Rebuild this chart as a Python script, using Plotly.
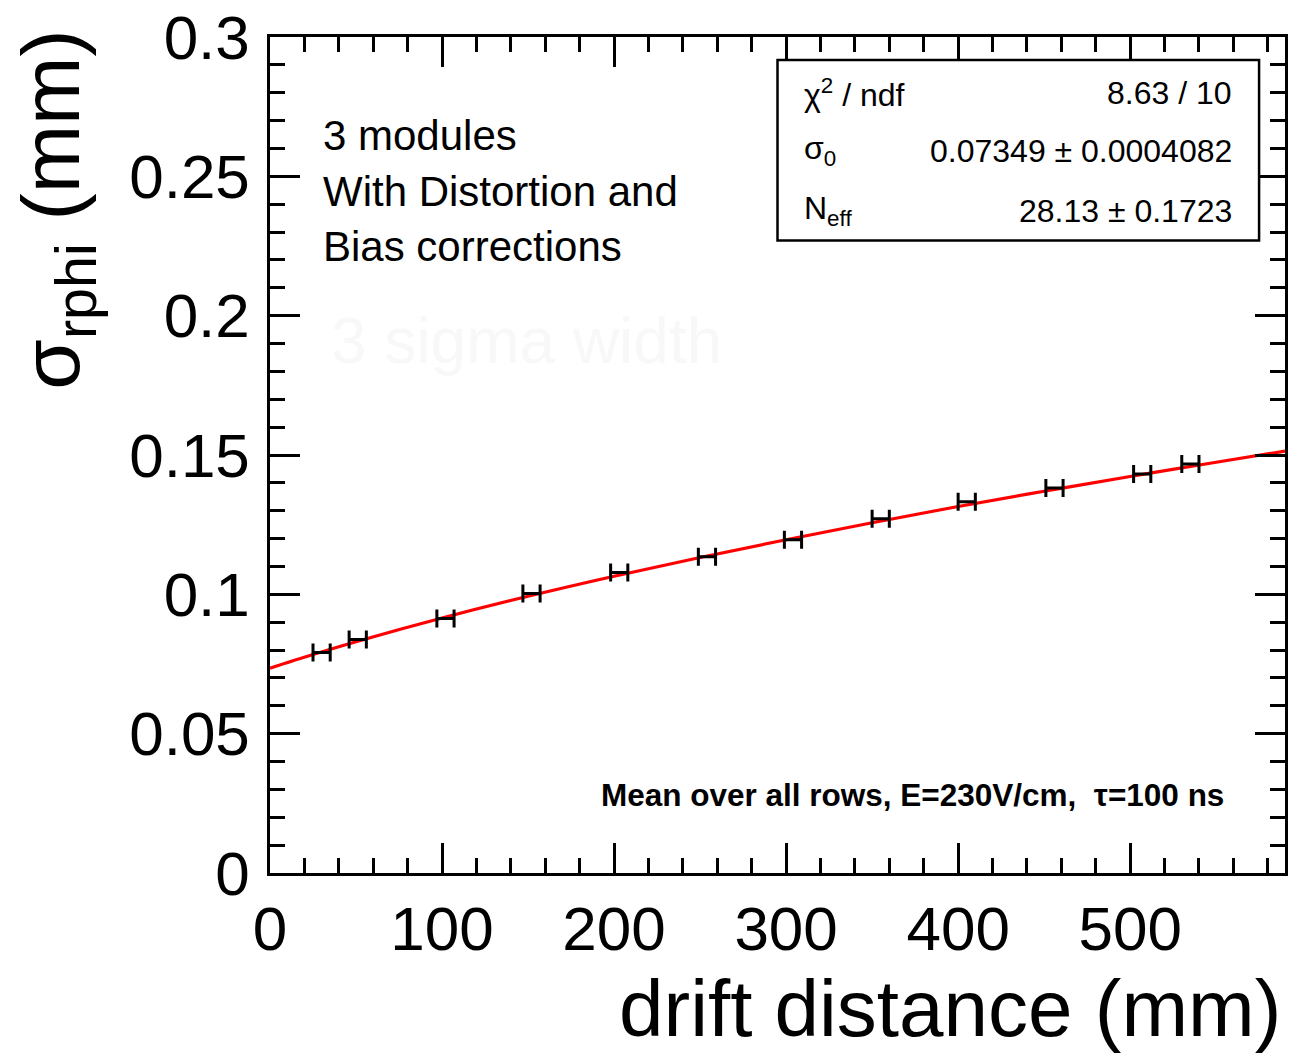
import plotly.graph_objects as go

# Measured resolution points
drift_mm = [30, 51, 102, 152, 203, 254, 304, 355, 405, 456, 507, 535]
sigma_mm = [0.0791, 0.0838, 0.0913, 0.1003, 0.1078, 0.1135, 0.1196, 0.1271, 0.1332, 0.1382, 0.1432, 0.1468]
drift_err = [5] * len(drift_mm)

# Fitted curve sampled along the drift range
fit_x = [0, 25, 50, 100, 150, 200, 250, 300, 350, 400, 450, 500, 550, 590]
fit_y = [0.0735, 0.0784, 0.0830, 0.0915, 0.0993, 0.1065, 0.1132, 0.1196, 0.1257, 0.1315, 0.1370, 0.1423, 0.1474, 0.1514]

# Axis ticks
x_ticks = [0, 100, 200, 300, 400, 500]
y_ticks = [0, 0.05, 0.1, 0.15, 0.2, 0.25, 0.3]
y_tick_text = ["0", "0.05", "0.1", "0.15", "0.2", "0.25", "0.3"]

# Fit statistics
stat_names = ["χ<sup>2</sup> / ndf", "σ<sub>0</sub>", "N<sub>eff</sub>"]
stat_values = ["8.63 / 10", "0.07349 ± 0.0004082", "28.13 ± 0.1723"]

FONT = "Liberation Sans, Arial, Helvetica, sans-serif"
W, H = 1291, 1057
L, R, T, B = 270, 3, 35, 184


def px(xp):
    return (xp - L) / (W - L - R)


def py(yp):
    return (H - B - yp) / (H - T - B)


fig = go.Figure()

fig.add_trace(go.Scatter(
    x=fit_x, y=fit_y, mode="lines", line=dict(color="red", width=3.2, shape="spline"),
    hoverinfo="skip", showlegend=False,
))

fig.add_trace(go.Scatter(
    x=drift_mm, y=sigma_mm, mode="markers",
    marker=dict(size=1, color="black"),
    error_x=dict(type="data", array=drift_err, color="black", thickness=3, width=9),
    showlegend=False,
))

axis_common = dict(
    showline=True, linecolor="black", linewidth=2.5, mirror="allticks",
    ticks="inside", tickcolor="black", tickwidth=2.5,
    showgrid=False, zeroline=False,
    tickfont=dict(family=FONT, size=62, color="black"),
)

fig.update_xaxes(
    range=[0, 590], tickvals=x_ticks, ticklen=30,
    minor=dict(dtick=20, ticks="inside", ticklen=15, tickwidth=2.5, tickcolor="black", showgrid=False),
    ticklabelstandoff=0,
    **axis_common,
)
fig.update_yaxes(
    range=[0, 0.3], tickvals=y_ticks, ticktext=y_tick_text, ticklen=30,
    minor=dict(dtick=0.01, ticks="inside", ticklen=15, tickwidth=2.5, tickcolor="black", showgrid=False),
    ticklabelstandoff=5,
    **axis_common,
)

ann = []
# Axis titles
ann.append(dict(text="drift distance (mm)", x=px(1286), y=py(1009),
                xanchor="right", yanchor="middle", showarrow=False,
                font=dict(family=FONT, size=80, color="black")))
ann.append(dict(text="σ<sub>rphi</sub> (mm)", x=px(55), y=py(26), xanchor="center", yanchor="top",
                textangle=-90, showarrow=False,
                font=dict(family=FONT, size=82, color="black")))

# Description text
for i, line in enumerate(["3 modules", "With Distortion and", "Bias corrections"]):
    ann.append(dict(text=line, x=px(321), y=py(134 + i * 55.5), xanchor="left", yanchor="middle",
                    showarrow=False, font=dict(family=FONT, size=42, color="black")))

ann.append(dict(text="3 sigma width", x=px(329), y=py(340), xanchor="left", yanchor="middle",
                showarrow=False, font=dict(family=FONT, size=64, color="#f8f8f8")))

ann.append(dict(text="<b>Mean over all rows, E=230V/cm,  τ=100 ns</b>", x=px(1229), y=py(795),
                xanchor="right", yanchor="middle", showarrow=False,
                font=dict(family=FONT, size=31.5, color="black")))

# Stats box rows
row_y = [91, 149, 209]
for name, val, yy in zip(stat_names, stat_values, row_y):
    ann.append(dict(text=name, x=px(804), y=py(yy), xanchor="left", yanchor="middle", showarrow=False,
                    font=dict(family=FONT, size=32, color="black")))
    ann.append(dict(text=val, x=px(1237), y=py(yy), xanchor="right", yanchor="middle", showarrow=False,
                    font=dict(family=FONT, size=32, color="black")))

for a in ann:
    a["xref"] = "paper"
    a["yref"] = "paper"

fig.update_layout(
    width=W, height=H,
    margin=dict(l=L, r=R, t=T, b=B),
    paper_bgcolor="white", plot_bgcolor="white",
    annotations=ann,
    shapes=[dict(type="rect", xref="paper", yref="paper",
                 x0=px(779), x1=px(1262), y0=py(239), y1=py(58),
                 line=dict(color="black", width=2.5), fillcolor="white", layer="above")],
)

fig.write_html("out.html")
